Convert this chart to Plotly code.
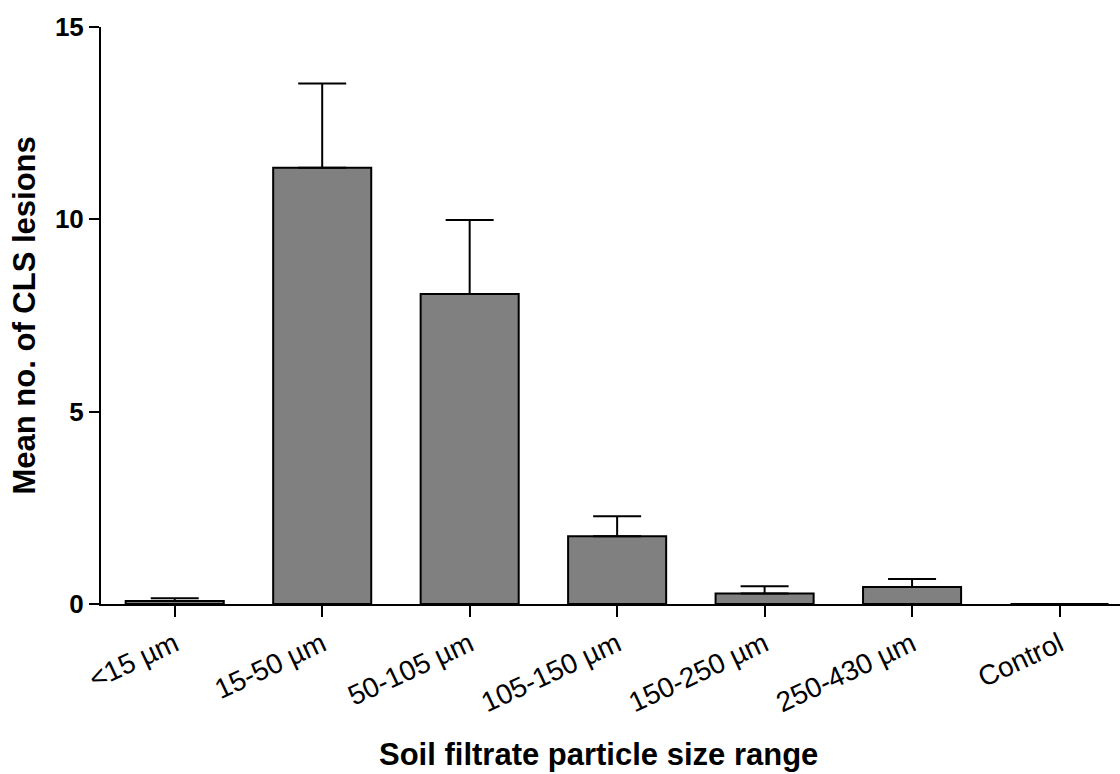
import plotly.graph_objects as go

categories = ["<15 µm", "15-50 µm", "50-105 µm", "105-150 µm", "150-250 µm", "250-430 µm", "Control"]
means = [0.08, 11.34, 8.06, 1.76, 0.27, 0.44, 0.0]
sem = [0.07, 2.19, 1.92, 0.52, 0.19, 0.21, 0.0]
y_ticks = [0, 5, 10, 15]

FONT = "Liberation Sans, Arial, sans-serif"

fig = go.Figure()
fig.add_trace(go.Bar(
    x=categories,
    y=means,
    marker=dict(color="#808080", line=dict(color="black", width=2)),
    error_y=dict(type="data", array=sem, arrayminus=[0] * len(sem), symmetric=False,
                 color="black", thickness=2, width=24),
    width=0.665,
))

fig.update_layout(
    width=1120, height=774,
    margin=dict(l=101, r=0, t=27, b=170, pad=0),
    plot_bgcolor="white", paper_bgcolor="white",
    showlegend=False,
    font=dict(family=FONT, color="black"),
    xaxis=dict(
        range=[-0.5, 6.41],
        showline=True, linecolor="black", linewidth=2,
        ticks="outside", ticklen=11, tickwidth=2, tickcolor="black",
        tickangle=-25, tickfont=dict(family=FONT, size=28, color="black"),
        showgrid=False, zeroline=False,
    ),
    yaxis=dict(
        range=[0, 15], tickvals=y_ticks,
        showline=True, linecolor="black", linewidth=2,
        ticks="outside", ticklen=10, tickwidth=2, tickcolor="black",
        tickfont=dict(family=FONT, size=26, color="black", weight="bold"),
        showgrid=False, zeroline=False,
    ),
    annotations=[
        dict(text="<b>Soil filtrate particle size range</b>", x=0.488, y=-0.261,
             xref="paper", yref="paper", xanchor="center", yanchor="middle",
             showarrow=False, font=dict(family=FONT, size=31, color="black")),
        dict(text="<b>Mean no. of CLS lesions</b>", x=-0.0746, y=0.5,
             xref="paper", yref="paper", xanchor="center", yanchor="middle",
             textangle=-90, showarrow=False,
             font=dict(family=FONT, size=31, color="black")),
    ],
)

fig.write_html("out.html")
